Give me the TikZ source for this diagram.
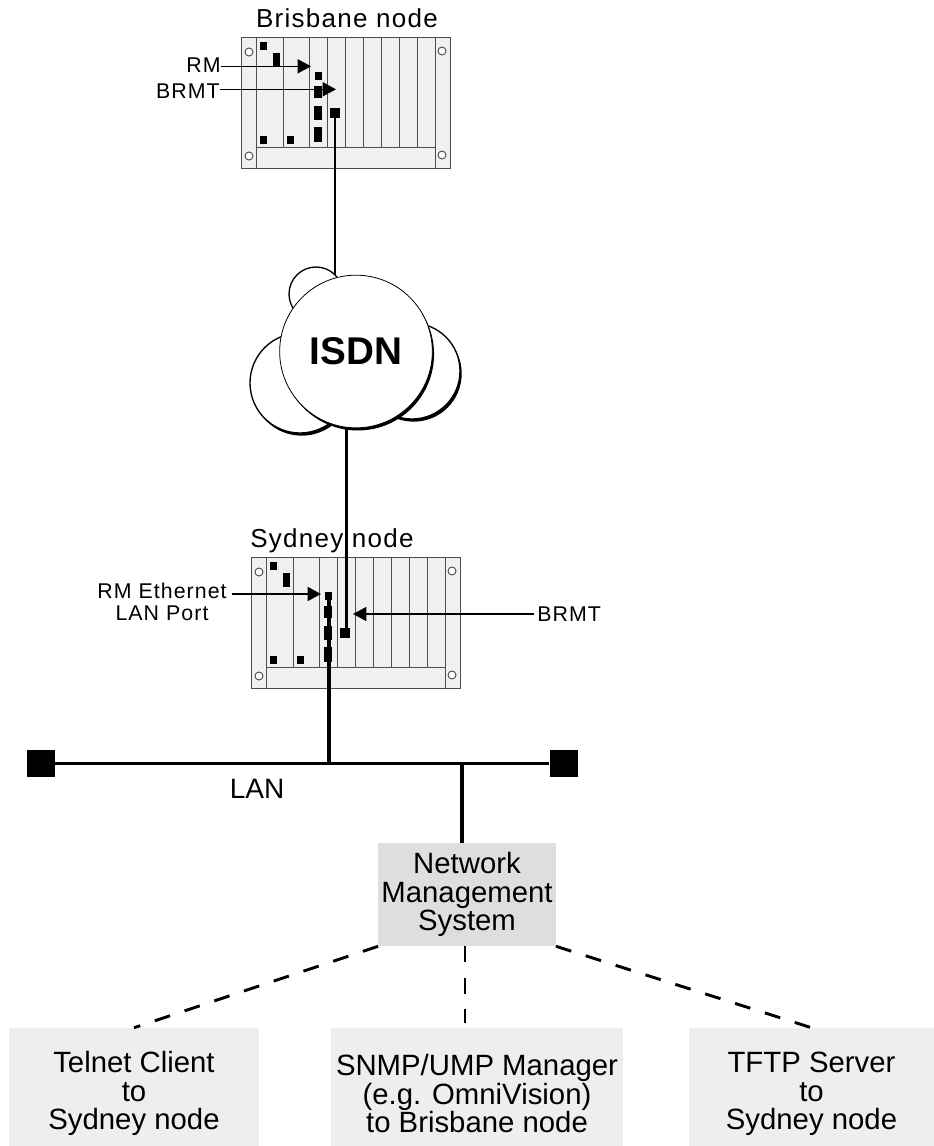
\documentclass[tikz,border=0pt]{standalone}
\usepackage{fontspec}
\setmainfont{Liberation Sans}
\newfontfamily\spacedfont{Liberation Sans}[LetterSpace=5]
\usetikzlibrary{arrows.meta, shadows}
\definecolor{rackgrey}{HTML}{F0F0F0}
\definecolor{stationgrey}{HTML}{EEEEEE}
\definecolor{nmsgrey}{HTML}{DEDEDE}
\newcommand{\lowerline}{\rule{0pt}{26pt}}

\tikzset{
    rack/.pic={
        \draw[rackline, fill=rackgrey] (0,0) rectangle (209,131);
        \foreach \slot in {42,68,86,104,122,140,158,176}
            \draw[rackline] (\slot,0) -- (\slot,110);
        \draw[rackline] (15,0) -- (15,131);
        \draw[rackline] (194,0) -- (194,131);
        \draw[rackline] (15,110) -- (194,110);
        \foreach \hx/\hy in {8/15,201/14,8/119,201/118}
            \draw[rackline, fill=white] (\hx,\hy) circle (4);
        \node[port, minimum width=5.6pt, minimum height=5.4pt] (-a) at (22.3,9) {};
        \node[port, minimum width=5.5pt, minimum height=10.5pt] (-b) at (35.5,23) {};
        \node[port, minimum width=5.6pt, minimum height=5.4pt] (-c) at (22.3,103) {};
        \node[port, minimum width=5.6pt, minimum height=5.4pt] (-d) at (49.3,103) {};
        \node[port, minimum width=5.6pt, minimum height=5.4pt] (-lan) at (77.3,39) {};
        \node[port, minimum width=5.5pt, minimum height=9pt] (-e) at (77,55) {};
        \node[port, minimum width=5.5pt, minimum height=10.5pt] (-f) at (77,76) {};
        \node[port, minimum width=5.5pt, minimum height=11.5pt] (-g) at (77,97.5) {};
        \node[port, minimum width=7pt, minimum height=7.5pt] (-brmt) at (94,75.5) {};
    }
}

\begin{document}
\begin{tikzpicture}[
    x=0.75pt, y=-0.75pt,
    port/.style={fill=black, inner sep=0pt},
    rackline/.style={draw=black!70, line width=0.7pt},
    rackname/.style={font=\spacedfont\fontsize{19.5}{21}\selectfont, inner sep=0pt, anchor=base},
    tag/.style={font=\spacedfont\fontsize{16}{16.5}\selectfont, inner sep=0pt, align=center},
    pointer/.style={line width=1.2pt, -{Triangle[length=10pt, width=10.5pt]}},
    trunk/.style={line width=2pt},
    bus/.style={line width=2.5pt},
    dashlink/.style={line width=2.2pt, dash pattern=on 12pt off 11.5pt},
    cloudpart/.style={circle, draw, line width=1pt, fill=white, inner sep=0pt,
        drop shadow={shadow xshift=1.3pt, shadow yshift=-2pt, opacity=1, fill=black}},
    station/.style={fill=stationgrey, inner sep=0pt, align=center, minimum height=88.5pt,
        font=\fontsize{22}{21.4}\selectfont}
]

\useasboundingbox (0,0) rectangle (934,1146);

% Trunks behind everything
\coordinate (isdntop) at (356,275);
\coordinate (isdnbottom) at (346.5,427);

% Racks
\pic (bris) at (241,37) {rack};
\pic (syd) at (251,557) {rack};

% Labels
\node[rackname] (brisname) at (347,27) {Brisbane node};
\node[rackname] (sydname) at (332,547) {Sydney node};
\node[tag, anchor=base east] (brisrm) at (221,72) {RM};
\node[tag, anchor=base east] (brisbrmt) at (220,98) {BRMT};
\node[tag] (sydrm) at (162,601.5) {RM Ethernet\\LAN Port};
\node[tag, anchor=west] (sydbrmt) at (537,614) {BRMT};

% Tips of the pointers
\coordinate (rmtip) at (311,66.3);
\coordinate (brmttip) at (336,89.3);
\coordinate (lantip) at (321,594);
\coordinate (sydtip) at (353,614);

% Arrows
\draw[pointer] (brisrm.east |- rmtip) -- (rmtip);
\draw[pointer] (brisbrmt.east |- brmttip) -- (brmttip);
\draw[pointer] (sydrm.east |- lantip) ++(5,0) -- (lantip);
\draw[pointer] ([xshift=-2pt]sydbrmt.west) -- (sydtip);

% Cables
\draw[trunk] (bris-brmt.center) -- (bris-brmt.center |- isdntop);
\draw[trunk] (syd-brmt.center -| isdnbottom) -- (isdnbottom);

% LAN
\node[port, minimum width=21pt, minimum height=20pt] (lanleft) at (41,763.5) {};
\node[port, minimum width=21pt, minimum height=20pt] (lanright) at (563.5,763.5) {};
\coordinate (lantap) at (329,763.5);
\coordinate (lanjoin) at (462,763.5);
\draw[bus] (lanleft) -- (lanright);
\draw[line width=3pt] (syd-lan.center -| lantap) -- (lantap);
\node[inner sep=0pt, anchor=base, font=\fontsize{21}{22}\selectfont] (lan) at (257,798) {LAN};

% ISDN cloud
\node[cloudpart, minimum size=40.5pt] (isdnsmall) at (316,294) {};
\node[cloudpart, minimum size=75pt] (isdnleft) at (300,383) {};
\node[cloudpart, minimum size=72pt] (isdnright) at (412,371) {};
\node[cloudpart, line width=0.6pt, minimum size=114.5pt, font=\bfseries\fontsize{29}{30}\selectfont] (isdn) at (356,351.5) {ISDN};

% Management system
\node[inner sep=0pt, align=center, fill=nmsgrey, minimum width=133pt, minimum height=77.25pt,
    font=\fontsize{22}{21.4}\selectfont] (nms) at (467,894.5) {Network\\Management\\System};
\draw[bus] (lanjoin) -- (lanjoin |- nms.north);

% Stations
\node[station, minimum width=187.5pt] (telnet) at (134,1087) {\lowerline Telnet Client\\to\\Sydney node};
\node[station, minimum width=219pt] (snmp) at (477,1087) {\lowerline SNMP/UMP Manager\\(e.g. OmniVision)\\to Brisbane node};
\node[station, minimum width=183.75pt] (tftp) at (811.5,1087) {\lowerline TFTP Server\\to\\Sydney node};

% Dashed links
\draw[dashlink] (nms.south west) -- (telnet.north);
\draw[dashlink] (nms.south) ++(-2,0) -- (465,1023);
\draw[dashlink] (nms.south east) -- (tftp.north);

\end{tikzpicture}
\end{document}
